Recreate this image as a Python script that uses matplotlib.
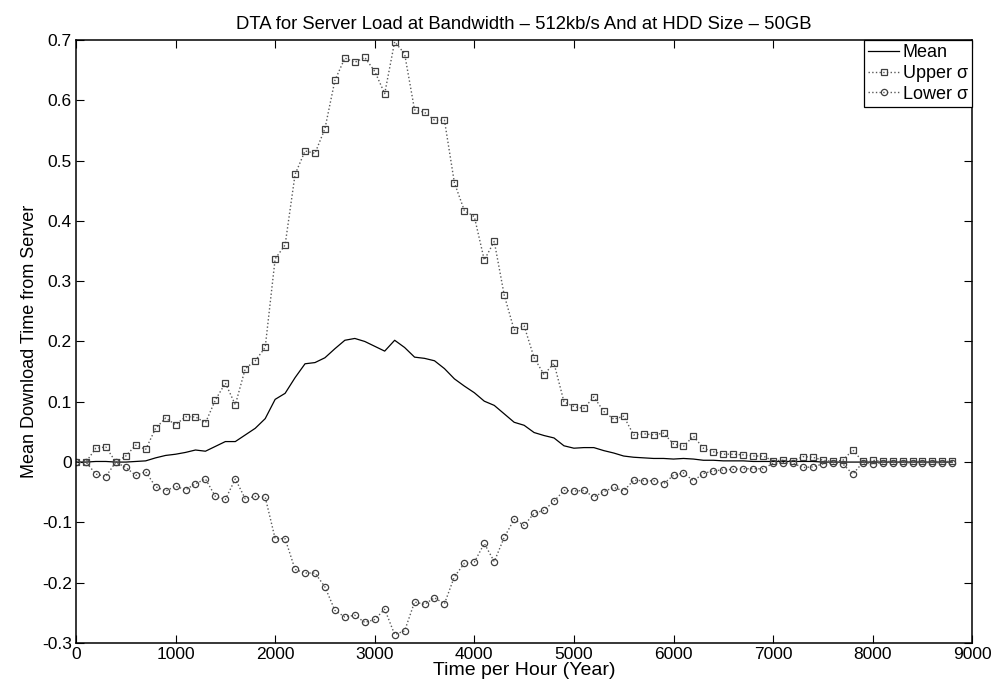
import numpy as np
import matplotlib
matplotlib.use("Agg")
import matplotlib.pyplot as plt

plt.rcParams['font.family'] = ['Liberation Sans', 'DejaVu Sans']

# time axis, one sample every 100 hours
hours = np.arange(0, 8900, 100)

mean_vals = [
    0.0, 0.0, 0.001, 0.001, 0.0, 0.0, 0.001, 0.002, 0.007, 0.011,
    0.013, 0.016, 0.020, 0.018, 0.026, 0.034, 0.034, 0.045, 0.056, 0.072,
    0.104, 0.114, 0.140, 0.163, 0.165, 0.173, 0.188, 0.202, 0.205, 0.200,
    0.192, 0.184, 0.202, 0.190, 0.174, 0.172, 0.168, 0.155, 0.138, 0.126,
    0.115, 0.101, 0.094, 0.080, 0.066, 0.061, 0.049, 0.044, 0.040, 0.027,
    0.023, 0.024, 0.024, 0.019, 0.015, 0.010, 0.008, 0.007, 0.006, 0.006,
    0.005, 0.006, 0.005, 0.003, 0.003, 0.002, 0.002, 0.002, 0.001, 0.001,
    0.001, 0.001, 0.001, 0.001, 0.001, 0.0, 0.0, 0.0, 0.0, 0.0,
    0.0, 0.0, 0.0, 0.0, 0.0, 0.0, 0.0, 0.0, 0.0,
]

upper_vals = [
    0.0, 0.0, 0.023, 0.025, 0.0, 0.010, 0.028, 0.021, 0.056, 0.073,
    0.062, 0.075, 0.075, 0.065, 0.103, 0.131, 0.095, 0.155, 0.168, 0.190,
    0.337, 0.360, 0.477, 0.516, 0.512, 0.553, 0.633, 0.670, 0.663, 0.671,
    0.648, 0.611, 0.697, 0.677, 0.584, 0.580, 0.567, 0.567, 0.463, 0.417,
    0.407, 0.335, 0.366, 0.277, 0.219, 0.226, 0.173, 0.145, 0.164, 0.100,
    0.092, 0.089, 0.108, 0.084, 0.071, 0.076, 0.045, 0.047, 0.045, 0.048,
    0.030, 0.026, 0.043, 0.023, 0.017, 0.013, 0.013, 0.012, 0.010, 0.010,
    0.002, 0.003, 0.002, 0.009, 0.008, 0.003, 0.001, 0.003, 0.020, 0.001,
    0.003, 0.001, 0.001, 0.001, 0.001, 0.001, 0.001, 0.001, 0.001,
]

lower_vals = [
    0.0, 0.0, -0.020, -0.024, 0.0, -0.009, -0.022, -0.016, -0.041, -0.048,
    -0.040, -0.046, -0.036, -0.028, -0.057, -0.062, -0.028, -0.061, -0.057, -0.058,
    -0.127, -0.127, -0.178, -0.184, -0.184, -0.207, -0.246, -0.257, -0.254, -0.266,
    -0.261, -0.244, -0.286, -0.280, -0.232, -0.236, -0.225, -0.235, -0.190, -0.168,
    -0.166, -0.135, -0.165, -0.125, -0.095, -0.105, -0.085, -0.080, -0.065, -0.047,
    -0.048, -0.047, -0.058, -0.049, -0.042, -0.048, -0.030, -0.031, -0.031, -0.036,
    -0.022, -0.018, -0.031, -0.019, -0.0145, -0.013, -0.012, -0.011, -0.011, -0.011,
    -0.002, -0.001, -0.002, -0.009, -0.008, -0.003, -0.001, -0.003, -0.020, -0.001,
    -0.003, -0.001, -0.001, -0.001, -0.001, -0.001, -0.001, -0.001, -0.001,
]

fig = plt.figure(figsize=(9.97, 6.89), dpi=100)
ax = fig.add_axes([0.0762, 0.0668, 0.899, 0.8752])

ax.plot(hours, mean_vals, '-', color='black', lw=0.9, label='Mean')
ax.plot(hours, upper_vals, ':', color='0.35', lw=1.0, marker='s', ms=4.5,
        mfc='none', mec='0.25', mew=0.9, label=u'Upper \u03c3')
ax.plot(hours, lower_vals, ':', color='0.35', lw=1.0, marker='o', ms=4.5,
        mfc='none', mec='0.25', mew=0.9, label=u'Lower \u03c3')

ax.set_xlim(0, 9000)
ax.set_ylim(-0.3, 0.7)
ax.set_xticks(np.arange(0, 9001, 1000))
ax.set_yticks(np.arange(-0.3, 0.71, 0.1))
ax.set_yticklabels(['-0.3', '-0.2', '-0.1', '0', '0.1', '0.2', '0.3', '0.4', '0.5', '0.6', '0.7'])
ax.tick_params(direction='in', top=True, right=True, labelsize=12.5, length=6, pad=3)
for s in ax.spines.values():
    s.set_linewidth(1.1)

ax.set_xlabel('Time per Hour (Year)', fontsize=14, labelpad=0)
ax.set_ylabel('Mean Download Time from Server', fontsize=13, labelpad=3)
ax.set_title(u'DTA for Server Load at Bandwidth \u2013 512kb/s And at HDD Size \u2013 50GB',
             fontsize=13.3, pad=8)

leg = ax.legend(loc='upper right', fontsize=13, fancybox=False, framealpha=1,
                edgecolor='black', borderaxespad=0.0, handlelength=1.7,
                handletextpad=0.2, borderpad=0.25, labelspacing=0.2)
leg.get_frame().set_linewidth(0.9)

fig.savefig('out.png', dpi=100)
